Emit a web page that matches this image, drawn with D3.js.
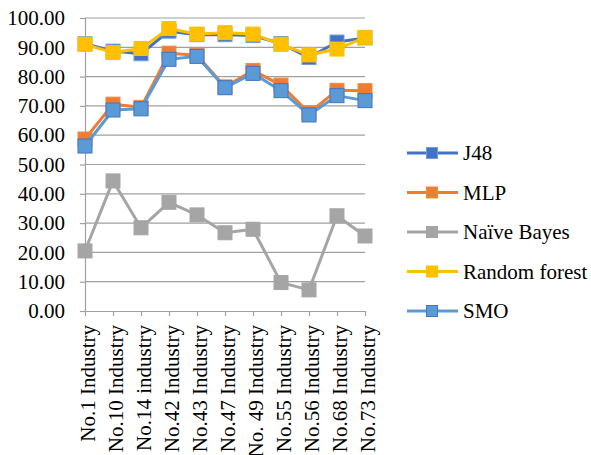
<!DOCTYPE html>
<html>
<head>
<meta charset="utf-8">
<script src="https://cdn.jsdelivr.net/npm/d3@7/dist/d3.min.js"></script>
<style>
  html, body { margin: 0; padding: 0; background: #fff; }
</style>
</head>
<body>
<svg id="chart" width="591" height="455"></svg>
<script>
// Industries along the x axis
const categories = ["No.1 Industry", "No.10 Industry", "No.14 industry", "No.42 Industry",
  "No.43 Industry", "No.47 Industry", "No. 49 Industry", "No.55 Industry",
  "No.56 Industry", "No.68 Industry", "No.73 Industry"];

// Accuracy (%) of each classifier per industry
const j48 = [91.2, 88.7, 87.8, 95.5, 94.3, 94.3, 94.0, 91.3, 86.5, 91.8, 93.2];
const mlp = [58.7, 70.6, 69.5, 88.0, 87.3, 76.5, 82.1, 77.1, 67.6, 75.3, 75.2];
const naiveBayes = [20.5, 44.4, 28.4, 37.1, 32.8, 26.7, 27.9, 9.7, 7.2, 32.5, 25.6];
const randomForest = [91.0, 88.2, 89.6, 96.4, 94.5, 95.0, 94.5, 91.0, 87.4, 89.4, 93.4];
const smo = [56.3, 68.6, 69.0, 85.9, 86.9, 76.2, 81.1, 75.2, 66.9, 73.5, 71.8];

const yTicks = [0, 10, 20, 30, 40, 50, 60, 70, 80, 90, 100];

const series = [
  { name: "J48", values: j48, line: "#4472C4", fill: "#4472C4", stroke: "#6FA0DC" },
  { name: "MLP", values: mlp, line: "#ED7D31", fill: "#ED7D31", stroke: "#F08A45" },
  { name: "Naïve Bayes", values: naiveBayes, line: "#A5A5A5", fill: "#A5A5A5", stroke: "#A5A5A5" },
  { name: "Random forest", values: randomForest, line: "#FFC000", fill: "#FFC000", stroke: "#FFC000" },
  { name: "SMO", values: smo, line: "#5B9BD5", fill: "#5B9BD5", stroke: "#4472C4" }
];

const svg = d3.select("#chart");
const fontFamily = "'Liberation Serif', 'Times New Roman', serif";
const fontSize = 21;

const x = d3.scalePoint().domain(categories).range([85, 365]);
const y = d3.scaleLinear().domain([0, 100]).range([311, 18]);

// Horizontal gridlines
svg.append("g")
  .selectAll("line")
  .data(yTicks.filter(t => t > 0))
  .join("line")
  .attr("x1", 85).attr("x2", 365)
  .attr("y1", d => y(d)).attr("y2", d => y(d))
  .attr("stroke", "#A0A0A0").attr("stroke-width", 1.2);

// Y axis
const yAxis = svg.append("g")
  .attr("transform", "translate(85,0)")
  .call(d3.axisLeft(y).tickValues(yTicks).tickSize(5).tickPadding(15)
    .tickFormat(d => d.toFixed(2)));
yAxis.attr("font-family", null).attr("font-size", null);
yAxis.select(".domain").attr("stroke", "#A0A0A0").attr("stroke-width", 1.2);
yAxis.selectAll(".tick line").attr("stroke", "#A0A0A0").attr("stroke-width", 1.2);
yAxis.selectAll(".tick text")
  .style("font-family", fontFamily)
  .style("font-size", fontSize + "px")
  .attr("fill", "#000");

// X axis
const xAxis = svg.append("g")
  .attr("transform", "translate(0,311)")
  .call(d3.axisBottom(x).tickSize(5).tickSizeOuter(0));
xAxis.attr("font-family", null).attr("font-size", null);
xAxis.select(".domain").attr("stroke", "#A0A0A0").attr("stroke-width", 1.2);
xAxis.selectAll(".tick line").attr("stroke", "#A0A0A0").attr("stroke-width", 1.2);
xAxis.selectAll(".tick text")
  .style("font-family", fontFamily)
  .style("font-size", fontSize + "px")
  .attr("fill", "#000")
  .attr("text-anchor", "end")
  .attr("transform", "rotate(-90)")
  .attr("x", -14)
  .attr("y", 2)
  .attr("dy", "0.35em");

// Series lines and square markers
const line = d3.line().x((d, i) => x(categories[i])).y(d => y(d));
const markerSize = 14;

series.forEach(s => {
  const g = svg.append("g");
  g.append("path")
    .datum(s.values)
    .attr("d", line)
    .attr("fill", "none")
    .attr("stroke", s.line)
    .attr("stroke-width", 3)
    .attr("stroke-linejoin", "round");
  g.selectAll("rect")
    .data(s.values)
    .join("rect")
    .attr("x", (d, i) => x(categories[i]) - markerSize / 2)
    .attr("y", d => y(d) - markerSize / 2)
    .attr("width", markerSize)
    .attr("height", markerSize)
    .attr("fill", s.fill)
    .attr("stroke", s.stroke)
    .attr("stroke-width", 1);
});

// Legend
const legend = svg.append("g");
const legendY = d3.scalePoint().domain(series.map(s => s.name)).range([153, 311]);
const legendMarker = 11;
series.forEach(s => {
  const ly = legendY(s.name);
  legend.append("line")
    .attr("x1", 407).attr("x2", 458)
    .attr("y1", ly).attr("y2", ly)
    .attr("stroke", s.line).attr("stroke-width", 3);
  legend.append("rect")
    .attr("x", 432 - legendMarker / 2).attr("y", ly - legendMarker / 2)
    .attr("width", legendMarker).attr("height", legendMarker)
    .attr("fill", s.fill).attr("stroke", s.stroke).attr("stroke-width", 1);
  legend.append("text")
    .attr("x", 463).attr("y", ly)
    .attr("dy", "0.35em")
    .style("font-family", fontFamily)
    .style("font-size", fontSize + "px")
    .attr("fill", "#000")
    .text(s.name);
});
</script>
</body>
</html>
